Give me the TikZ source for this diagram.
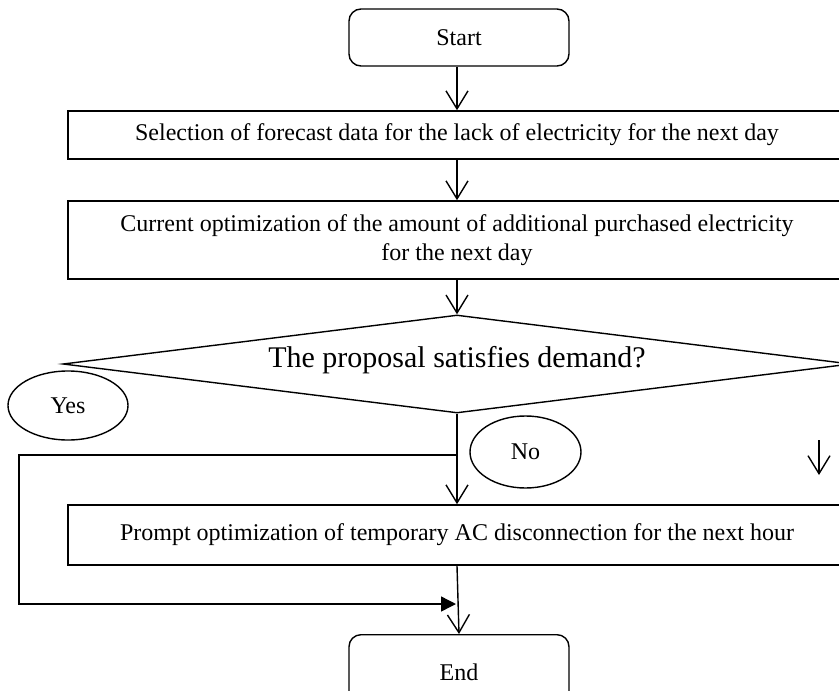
\documentclass[tikz,border=0pt]{standalone}
\usepackage{fontspec}
\setmainfont{Liberation Serif}
\usetikzlibrary{arrows.meta,shapes.geometric,positioning}

\begin{document}
\begin{tikzpicture}[x=1pt,y=-1pt,line width=1.4pt,
  box/.style={draw,line width=1.6pt,minimum width=778pt,align=center,font=\fontsize{24}{29}\selectfont},
  term/.style={draw,rounded corners=12pt,minimum width=220pt,font=\fontsize{24}{28}\selectfont},
  oval/.style={draw,ellipse,inner sep=0pt,font=\fontsize{24}{28}\selectfont},
  flow/.style={-{Straight Barb[length=18pt,width=22pt]}},
  back/.style={-{Triangle[length=15pt,width=15pt]}}]
\useasboundingbox (0,0) rectangle (839,691);
% blocks
\node[term,minimum height=57pt] (start) at (459,37.5) {Start};
\node[box,minimum height=48pt] (sel) at (457,135) {Selection of forecast data for the lack of electricity for the next day};
\node[box,minimum height=78pt] (opt) at (457,240) {Current optimization of the amount of additional purchased electricity\\ for the next day};
\node[draw,diamond,shape aspect=8.04,minimum width=788pt,minimum height=98pt,inner sep=0pt] (dec) at (457,364) {};
\node[font=\fontsize{30}{34}\selectfont] (dectext) at (457,360) {The proposal satisfies demand?};
\node[oval,minimum width=120pt,minimum height=69pt] (yes) at (68,405.5) {Yes};
\node[oval,minimum width=111pt,minimum height=72pt] (no) at (525.5,452) {No};
\node[box,minimum height=60pt] (prompt) at (457,535) {Prompt optimization of temporary AC disconnection for the next hour};
\node[term,minimum height=76pt,anchor=north] (end) at (459,634) {End};
\coordinate (yesturn) at (19,455);
\coordinate (yesend) at (456,604);
\coordinate (stray) at (819,440);
% connectors
\draw[flow] (dec.north |- start.south) -- (dec.north |- sel.north);
\draw[flow] (sel.south) -- (opt.north);
\draw[flow] (opt.south) -- (dec.north);
\draw[flow] (dec.south) -- (prompt.north);
\draw[back] (yesturn -| dec.south) -- (yesturn) |- (yesend);
\draw[flow] (prompt.south) -- (end.north);
\draw[flow] (stray) -- ++(0,35);
\end{tikzpicture}
\end{document}
